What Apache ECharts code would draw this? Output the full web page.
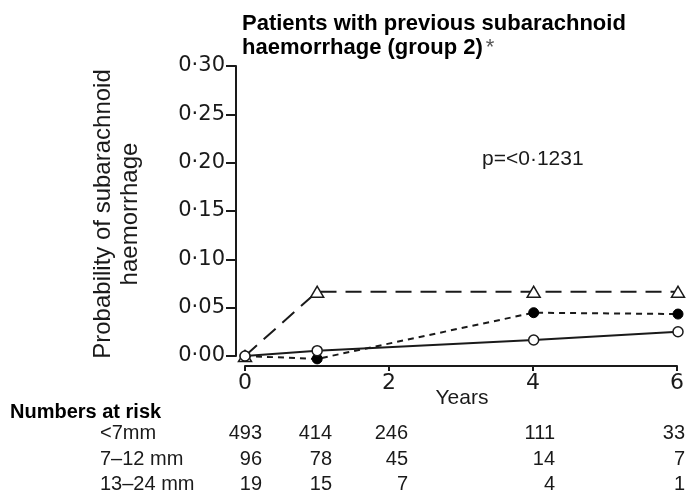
<!DOCTYPE html>
<html>
<head>
<meta charset="utf-8">
<script src="https://cdn.jsdelivr.net/npm/echarts@6/dist/echarts.min.js"></script>
<style>
  html, body { margin: 0; padding: 0; background: #fff; }
  #chart { width: 687px; height: 494px; }
</style>
</head>
<body>
<div id="chart"></div>
<script>
// follow-up years
const years = [0, 1, 4, 6]
// cumulative probability of SAH per size group
const probSmall = [0, 0.0055, 0.0166, 0.0251]   // <7mm, open circles
const probMid = [0, -0.003, 0.0448, 0.0434]     // 7-12 mm, filled circles
const probLarge = [0, 0.0665, 0.0665, 0.0665]   // 13-24 mm, triangles

// numbers at risk table
const riskGroups = ['<7mm', '7–12 mm', '13–24 mm']
const atRiskSmall = [493, 414, 246, 111, 33]
const atRiskMid = [96, 78, 45, 14, 7]
const atRiskLarge = [19, 15, 7, 4, 1]

const ink = '#1a1a1a'
const sans = 'Liberation Sans, Arial, sans-serif'
const tickFont = 'DejaVu Sans, sans-serif'

const colRight = [262, 332, 408, 555, 685]
const rowY = [433, 459, 484]

function tableText() {
  const rows = [atRiskSmall, atRiskMid, atRiskLarge]
  const out = [{
    type: 'text', left: 10, top: 402,
    style: { text: 'Numbers at risk', font: 'bold 20px ' + sans, fill: '#000' }
  }]
  rows.forEach((row, i) => {
    out.push({
      type: 'text', x: 100, y: rowY[i],
      style: { text: riskGroups[i], font: '20px ' + sans, fill: ink, textAlign: 'left', textVerticalAlign: 'middle' }
    })
    row.forEach((v, j) => {
      out.push({
        type: 'text', x: colRight[j], y: rowY[i],
        style: { text: String(v), font: '20px ' + sans, fill: ink, textAlign: 'right', textVerticalAlign: 'middle' }
      })
    })
  })
  return out
}

const fmt = v => v.toFixed(2).replace('.', '·')
const hidden = { axisLine: { show: false }, axisTick: { show: false }, axisLabel: { show: false }, splitLine: { show: false } }

const chart = echarts.init(document.getElementById('chart'))
chart.setOption({
  animation: false,
  backgroundColor: '#fff',
  title: {
    left: 237,
    top: 7,
    text: '{b|Patients with previous subarachnoid}\n{b|haemorrhage (group 2)}{a|*}',
    textStyle: {
      rich: {
        b: { fontFamily: sans, fontWeight: 'bold', fontSize: 22, lineHeight: 24, color: '#000' },
        a: { fontFamily: sans, fontWeight: 'normal', fontSize: 22, lineHeight: 24, color: '#555', padding: [0, 0, 0, 3] }
      }
    }
  },
  // 0: data, 1: detached y axis, 2: detached x axis
  grid: [
    { left: 245, right: 9, top: 66, bottom: 138 },
    { left: 236, right: 9, top: 66, bottom: 138 },
    { left: 245, right: 9, top: 76, bottom: 128 }
  ],
  xAxis: [
    Object.assign({ type: 'value', gridIndex: 0, min: 0, max: 6 }, hidden),
    Object.assign({ type: 'value', gridIndex: 1, min: 0, max: 6 }, hidden),
    {
      type: 'value', gridIndex: 2, min: 0, max: 6, interval: 2,
      axisLine: { onZero: false, lineStyle: { color: ink, width: 2 } },
      axisTick: { length: 5, lineStyle: { color: ink, width: 2 } },
      axisLabel: { color: ink, fontFamily: tickFont, fontSize: 22, margin: 6 },
      splitLine: { show: false }
    }
  ],
  yAxis: [
    Object.assign({ type: 'value', gridIndex: 0, min: 0, max: 0.3 }, hidden),
    {
      type: 'value', gridIndex: 1, min: 0, max: 0.3, interval: 0.05,
      axisLine: { show: true, onZero: false, lineStyle: { color: ink, width: 2 } },
      axisTick: { show: true, length: 10, lineStyle: { color: ink, width: 2 } },
      axisLabel: { color: ink, fontFamily: tickFont, fontSize: 21, margin: 11, formatter: fmt },
      splitLine: { show: false }
    },
    Object.assign({ type: 'value', gridIndex: 2, min: 0, max: 0.3 }, hidden)
  ],
  graphic: [
    {
      type: 'text', x: 117, y: 214, rotation: Math.PI / 2,
      style: {
        text: 'Probability of subarachnoid\nhaemorrhage',
        font: '24px ' + sans, fill: ink, textAlign: 'center', textVerticalAlign: 'middle', lineHeight: 27
      }
    },
    {
      type: 'text', x: 482, y: 159,
      style: { text: 'p=<0·1231', font: '21px ' + sans, fill: ink, textVerticalAlign: 'middle' }
    },
    {
      type: 'text', x: 462, y: 398,
      style: { text: 'Years', font: '21px ' + sans, fill: ink, textAlign: 'center', textVerticalAlign: 'middle' }
    }
  ].concat(tableText()),
  series: [
    {
      name: '13–24 mm', type: 'line', clip: false, xAxisIndex: 0, yAxisIndex: 0,
      data: years.map((x, i) => [x, probLarge[i]]),
      symbol: 'triangle', symbolSize: [13, 11], z: 3,
      lineStyle: { color: ink, width: 2, type: [16, 9] },
      itemStyle: { color: '#fff', borderColor: ink, borderWidth: 1.5 }
    },
    {
      name: '7–12 mm', type: 'line', clip: false, xAxisIndex: 0, yAxisIndex: 0,
      data: years.map((x, i) => [x, probMid[i]]),
      symbol: 'circle', symbolSize: 10, z: 4,
      lineStyle: { color: ink, width: 2, type: [6, 5] },
      itemStyle: { color: '#000', borderColor: '#000', borderWidth: 1 }
    },
    {
      name: '<7mm', type: 'line', clip: false, xAxisIndex: 0, yAxisIndex: 0,
      data: years.map((x, i) => [x, probSmall[i]]),
      symbol: 'circle', symbolSize: 10, z: 5,
      lineStyle: { color: ink, width: 2 },
      itemStyle: { color: '#fff', borderColor: ink, borderWidth: 1.5 }
    }
  ]
})
</script>
</body>
</html>
